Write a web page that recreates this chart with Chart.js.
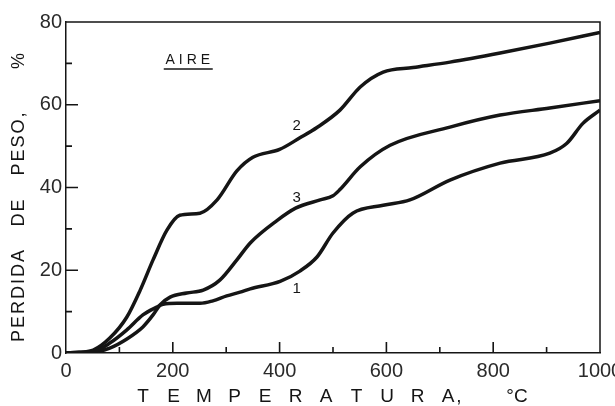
<!DOCTYPE html>
<html>
<head>
<meta charset="utf-8">
<script src="https://cdn.jsdelivr.net/npm/chart.js@4"></script>
<style>
  html, body { margin: 0; padding: 0; background: #fff; }
  #wrap { width: 615px; height: 406px; }
</style>
</head>
<body>
<div id="wrap"><canvas id="chart" width="615" height="406"></canvas></div>
<script>
// curve 1
const temps1 = [0, 25, 51, 82, 114, 144, 170, 182, 208, 251, 275, 301, 326, 345, 401, 438, 470, 500, 537, 594, 644, 719, 813, 906, 938, 968, 1000];
const loss1 = [0, 0.1, 0.3, 2.4, 5.6, 9.2, 11.1, 11.8, 12, 12, 12.6, 13.8, 14.7, 15.5, 17.3, 19.8, 23.2, 29, 33.8, 35.7, 37, 41.8, 45.9, 48.3, 50.7, 55.5, 58.7];
// curve 2
const temps2 = [0, 25, 51, 82, 114, 139, 163, 189, 213, 251, 283, 320, 350, 400, 438, 470, 513, 551, 594, 650, 719, 813, 906, 1000];
const loss2 = [0, 0.2, 0.7, 3.6, 8.7, 15.2, 22.5, 29.7, 33.3, 33.8, 37, 44, 47.3, 49.2, 52, 54.5, 58.7, 64.3, 67.9, 69, 70.3, 72.5, 74.9, 77.5];
// curve 3
const temps3 = [0, 25, 51, 82, 114, 144, 163, 176, 195, 226, 257, 288, 320, 345, 395, 430, 476, 500, 513, 551, 607, 719, 813, 906, 1000];
const loss3 = [0, 0.1, 0.2, 1.2, 3.4, 6.3, 9.2, 11.6, 13.5, 14.5, 15.2, 17.6, 22.5, 26.6, 32, 35, 37, 38, 39.5, 45, 50.2, 54.6, 57.5, 59.2, 61];

// curve labels placed in data units
const curveNames = ["2", "3", "1"];
const nameTemps = [432, 432, 432];
const nameLoss = [54.8, 37.4, 15.5];

const xTitle = "TEMPERATURA,";
const yWords = ["PERDIDA", "DE", "PESO,", "%"];

const FONT = "'Liberation Sans', Arial, sans-serif";
const INK = "#151515";

function pts(xs, ys) {
  return xs.map((x, i) => ({ x: x, y: ys[i] }));
}

const decor = {
  id: "decor",
  afterDraw(chart) {
    const ctx = chart.ctx;
    const a = chart.chartArea;
    const xs = chart.scales.x;
    const ys = chart.scales.y;
    ctx.save();
    ctx.strokeStyle = INK;
    ctx.lineWidth = 1.5;

    // top and right frame
    ctx.beginPath();
    ctx.moveTo(a.left, a.top);
    ctx.lineTo(a.right, a.top);
    ctx.lineTo(a.right, a.bottom);
    ctx.stroke();

    // inward ticks
    ctx.lineWidth = 1.6;
    ctx.beginPath();
    for (let v = 100; v < 1000; v += 100) {
      const px = xs.getPixelForValue(v);
      const len = v % 200 === 0 ? 11 : 6;
      ctx.moveTo(px, a.bottom);
      ctx.lineTo(px, a.bottom - len);
    }
    for (let v = 10; v < 80; v += 10) {
      const py = ys.getPixelForValue(v);
      const len = v % 20 === 0 ? 12 : 6;
      ctx.moveTo(a.left, py);
      ctx.lineTo(a.left + len, py);
    }
    ctx.stroke();

    ctx.fillStyle = INK;
    ctx.textAlign = "center";
    ctx.textBaseline = "middle";

    // x title, letters spread out
    ctx.font = "19px " + FONT;
    for (let i = 0; i < xTitle.length; i++) {
      const ch = xTitle[i];
      if (ch === ",") {
        ctx.fillText(ch, 143 + 30.5 * (i - 1) + 11, 397);
      } else {
        ctx.fillText(ch, 143 + 30.5 * i, 397);
      }
    }
    ctx.fillText("°C", 517, 397);

    // y title, rotated
    ctx.save();
    ctx.translate(19, 0);
    ctx.rotate(-Math.PI / 2);
    ctx.font = "18px " + FONT;
    ctx.letterSpacing = "2px";
    const yCenters = [295, 212, 143, 60];
    yWords.forEach((w, i) => ctx.fillText(w, -yCenters[i], 0));
    ctx.restore();

    // AIRE with underline
    ctx.font = "14px " + FONT;
    ctx.letterSpacing = "4px";
    const ax = xs.getPixelForValue(228);
    const ay = ys.getPixelForValue(70.8);
    ctx.fillText("AIRE", ax + 2, ay);
    ctx.letterSpacing = "0px";
    ctx.lineWidth = 1.5;
    ctx.beginPath();
    ctx.moveTo(ax - 24, ay + 9);
    ctx.lineTo(ax + 25, ay + 9);
    ctx.stroke();

    // curve numbers
    ctx.font = "15px " + FONT;
    curveNames.forEach((n, i) => {
      ctx.fillText(n, xs.getPixelForValue(nameTemps[i]), ys.getPixelForValue(nameLoss[i]));
    });
    ctx.restore();
  }
};

const lineStyle = {
  borderColor: INK,
  borderWidth: 3.5,
  pointRadius: 0,
  fill: false,
  cubicInterpolationMode: "monotone",
};

new Chart(document.getElementById("chart"), {
  type: "line",
  data: {
    datasets: [
      Object.assign({ label: "1", data: pts(temps1, loss1) }, lineStyle),
      Object.assign({ label: "2", data: pts(temps2, loss2) }, lineStyle),
      Object.assign({ label: "3", data: pts(temps3, loss3) }, lineStyle),
    ],
  },
  options: {
    responsive: false,
    animation: false,
    layout: { padding: { left: 0, right: 15, top: 22, bottom: 0 } },
    plugins: { legend: { display: false }, tooltip: { enabled: false } },
    scales: {
      x: {
        type: "linear",
        min: 0,
        max: 1000,
        grid: { display: false, drawTicks: false },
        border: { display: true, color: INK, width: 1.5 },
        ticks: {
          stepSize: 200,
          padding: 6,
          color: "#2a2a2a",
          font: { family: FONT, size: 20 },
          callback: (v) => String(v),
        },
        afterFit(s) { s.height = 53; s.paddingLeft = 0; s.paddingRight = 0; },
      },
      y: {
        min: 0,
        max: 80,
        grid: { display: false, drawTicks: false },
        border: { display: true, color: INK, width: 1.5 },
        ticks: { stepSize: 20, padding: 4, color: "#2a2a2a", font: { family: FONT, size: 20 } },
        afterFit(s) { s.width = 66; s.paddingTop = 0; s.paddingBottom = 0; },
      },
    },
  },
  plugins: [decor],
});
</script>
</body>
</html>
